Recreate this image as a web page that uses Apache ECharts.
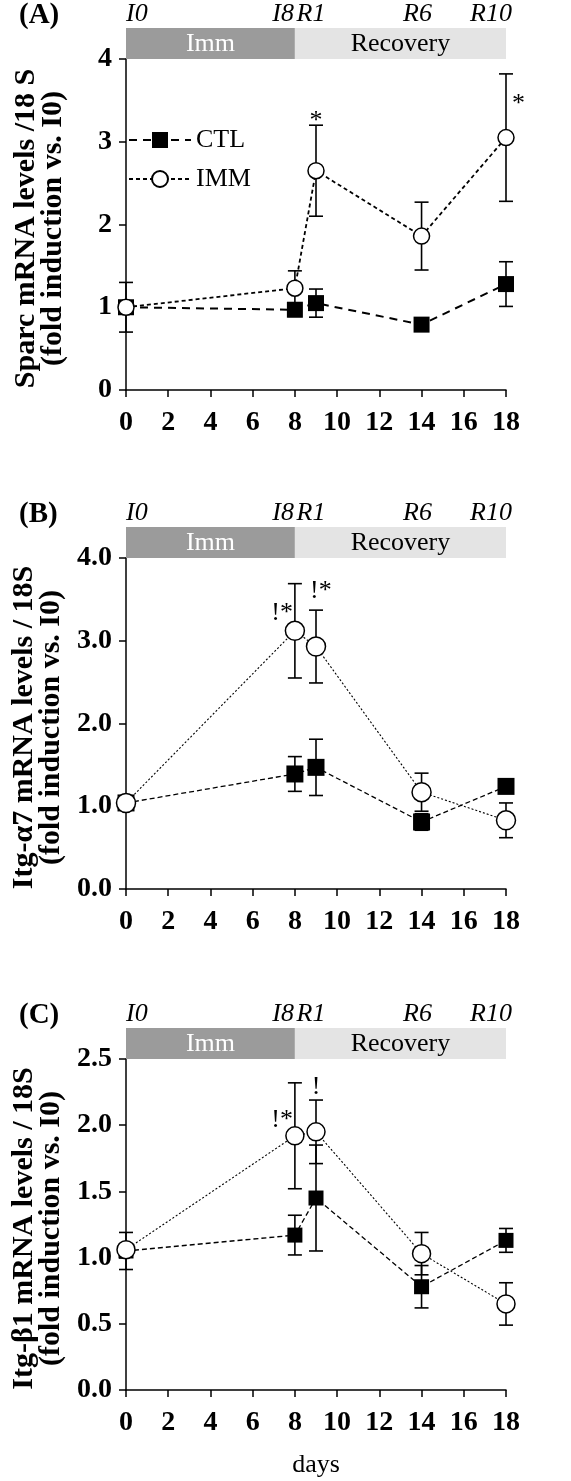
<!DOCTYPE html>
<html><head><meta charset="utf-8">
<script src="https://cdn.jsdelivr.net/npm/echarts@6/dist/echarts.min.js"></script>
<style>html,body{margin:0;padding:0;background:#fff}#c{width:571px;height:1481px}</style>
</head><body><div id="c"></div>
<script>
// ---------- data ----------
const days = [0, 8, 9, 14, 18];

const sparcCTL    = [1.00, 0.97, 1.05, 0.79, 1.28];
const sparcCTLErr = [0.30, 0.08, 0.17, 0.06, 0.27];
const sparcIMM    = [1.00, 1.23, 2.65, 1.86, 3.05];
const sparcIMMErr = [0.04, 0.21, 0.55, 0.41, 0.77];

const a7CTL    = [1.04, 1.39, 1.47, 0.81, 1.24];
const a7CTLErr = [0.05, 0.21, 0.34, 0.10, 0.04];
const a7IMM    = [1.04, 3.12, 2.93, 1.17, 0.83];
const a7IMMErr = [0.05, 0.57, 0.44, 0.23, 0.21];

const b1CTL    = [1.05, 1.17, 1.45, 0.78, 1.13];
const b1CTLErr = [0.14, 0.15, 0.40, 0.16, 0.09];
const b1IMM    = [1.06, 1.92, 1.95, 1.03, 0.65];
const b1IMMErr = [0.03, 0.40, 0.24, 0.16, 0.16];

const sparcAnnotText = ['*', '*'];
const sparcAnnotDay  = [9, 18];
const a7AnnotText = ['!*', '!*'];
const a7AnnotDay  = [8, 9];
const b1AnnotText = ['!*', '!'];
const b1AnnotDay  = [8, 9];

const panelLetters = ['(A)', '(B)', '(C)'];
const yTitles = [
  'Sparc mRNA levels /18 S\n(fold induction vs. I0)',
  'Itg-\u03b17 mRNA levels / 18S\n(fold induction vs. I0)',
  'Itg-\u03b21 mRNA levels / 18S\n(fold induction vs. I0)'
];
const yMax = [4, 4, 2.5];
const yStep = [1, 1, 0.5];
const yDecimals = [0, 1, 1];
const xMax = 18, xStep = 2;
const xTitle = 'days';

const tpLabels = ['I0', 'I8', 'R1', 'R6', 'R10'];
const tpDays = [0, 8, 9, 14, 18];
const phaseNames = ['Imm', 'Recovery'];
const phaseStart = [0, 8];
const phaseEnd = [8, 18];

// ---------- styles ----------
const FF = "'Liberation Serif','Times New Roman',serif";
const mainTop = [59, 558, 1059];
const plotH = 331;
const headH = 31;
const gridLeft = 126, gridRight = 65;
const tpStyle = [
  {align: 'left', dx: 0}, {align: 'right', dx: -1}, {align: 'center', dx: -5},
  {align: 'center', dx: -4}, {align: 'right', dx: 6}
];
const phaseFill = ['#9b9b9b', '#e4e4e4'];
const phaseText = ['#ffffff', '#000000'];
const annotStyles = [
  [{align: 'center', dx: 0, dy: -4}, {align: 'left', dx: 6, dy: 30}],
  [{align: 'right', dx: -2, dy: 30}, {align: 'left', dx: -6, dy: -19}],
  [{align: 'right', dx: -2, dy: 37}, {align: 'center', dx: 0, dy: -13}]
];
const panelStyles = [
  {ctl: {type: [8, 6], width: 2}, imm: {type: [4, 3], width: 1.8}, sq: 16, ci: 16},
  {ctl: {type: [5, 3], width: 1.3}, imm: {type: [2, 2], width: 1.1}, sq: 17, ci: 19},
  {ctl: {type: [5, 3], width: 1.3}, imm: {type: [2, 2], width: 1.1}, sq: 15, ci: 18}
];

const panels = [
  {ctl: sparcCTL, ctlErr: sparcCTLErr, imm: sparcIMM, immErr: sparcIMMErr, annText: sparcAnnotText, annDay: sparcAnnotDay},
  {ctl: a7CTL, ctlErr: a7CTLErr, imm: a7IMM, immErr: a7IMMErr, annText: a7AnnotText, annDay: a7AnnotDay},
  {ctl: b1CTL, ctlErr: b1CTLErr, imm: b1IMM, immErr: b1IMMErr, annText: b1AnnotText, annDay: b1AnnotDay}
];

function errRender(params, api) {
  const x = api.value(0), lo = api.value(1), hi = api.value(2);
  const pLo = api.coord([x, lo]), pHi = api.coord([x, hi]);
  const cap = 7;
  const st = {stroke: '#000', lineWidth: 1.6, fill: null};
  return {type: 'group', children: [
    {type: 'line', shape: {x1: pHi[0], y1: pHi[1], x2: pLo[0], y2: pLo[1]}, style: st},
    {type: 'line', shape: {x1: pHi[0] - cap, y1: pHi[1], x2: pHi[0] + cap, y2: pHi[1]}, style: st},
    {type: 'line', shape: {x1: pLo[0] - cap, y1: pLo[1], x2: pLo[0] + cap, y2: pLo[1]}, style: st}
  ]};
}

const grids = [], xAxes = [], yAxes = [], series = [], titles = [];
panels.forEach((pd, p) => {
  const ps = panelStyles[p];
  const gi = 2 * p, hi = 2 * p + 1;
  grids.push({left: gridLeft, right: gridRight, top: mainTop[p], height: plotH});
  grids.push({left: gridLeft, right: gridRight, top: mainTop[p] - headH, height: headH});
  xAxes.push({
    type: 'value', gridIndex: gi, min: 0, max: xMax, interval: xStep,
    axisLine: {onZero: false, lineStyle: {color: '#000', width: 1.5}},
    axisTick: {length: 7, lineStyle: {color: '#000', width: 1.5}},
    axisLabel: {color: '#000', fontFamily: FF, fontWeight: 'bold', fontSize: 28, margin: 19},
    splitLine: {show: false},
    name: p === 2 ? xTitle : '', nameLocation: 'middle', nameGap: 62,
    nameTextStyle: {color: '#000', fontFamily: FF, fontSize: 26}
  });
  xAxes.push({type: 'value', gridIndex: hi, min: 0, max: xMax, show: false});
  yAxes.push({
    type: 'value', gridIndex: gi, min: 0, max: yMax[p], interval: yStep[p],
    axisLine: {show: true, lineStyle: {color: '#000', width: 1.5}},
    axisTick: {show: true, length: 7, lineStyle: {color: '#000', width: 1.5}},
    axisLabel: {color: '#000', fontFamily: FF, fontWeight: 'bold', fontSize: 28, margin: 14,
      formatter: v => v.toFixed(yDecimals[p])},
    splitLine: {show: false},
    name: yTitles[p], nameLocation: 'middle', nameRotate: 90, nameGap: 59,
    nameTextStyle: {color: '#000', fontFamily: FF, fontWeight: 'bold', fontSize: 30, lineHeight: 27,
      padding: [0, 8, 0, 0]}
  });
  yAxes.push({type: 'value', gridIndex: hi, min: 0, max: 1, show: false});

  const nC = p === 0 ? 'CTL' : 'CTL ' + p;
  const nI = p === 0 ? 'IMM' : 'IMM ' + p;
  series.push({
    type: 'custom', name: nC + ' err', xAxisIndex: gi, yAxisIndex: gi, z: 2, silent: true,
    renderItem: errRender, encode: {x: 0, y: [1, 2]},
    data: days.map((d, i) => [d, pd.ctl[i] - pd.ctlErr[i], pd.ctl[i] + pd.ctlErr[i]])
  });
  series.push({
    type: 'custom', name: nI + ' err', xAxisIndex: gi, yAxisIndex: gi, z: 2, silent: true,
    renderItem: errRender, encode: {x: 0, y: [1, 2]},
    data: days.map((d, i) => [d, pd.imm[i] - pd.immErr[i], pd.imm[i] + pd.immErr[i]])
  });
  series.push({
    type: 'line', name: nC, xAxisIndex: gi, yAxisIndex: gi, z: 3,
    data: days.map((d, i) => [d, pd.ctl[i]]),
    symbol: 'rect', symbolSize: ps.sq, showAllSymbol: true,
    itemStyle: {color: '#000', borderColor: '#000', borderWidth: 0},
    lineStyle: {color: '#000', width: ps.ctl.width, type: ps.ctl.type},
    emphasis: {disabled: true}
  });
  series.push({
    type: 'line', name: nI, xAxisIndex: gi, yAxisIndex: gi, z: 4,
    data: days.map((d, i) => [d, pd.imm[i]]),
    symbol: 'circle', symbolSize: ps.ci, showAllSymbol: true,
    itemStyle: {color: '#fff', borderColor: '#000', borderWidth: 1.5},
    lineStyle: {color: '#000', width: ps.imm.width, type: ps.imm.type},
    emphasis: {disabled: true}
  });
  // significance annotations, anchored at the top of the IMM error bar
  series.push({
    type: 'custom', name: 'annot ' + p, xAxisIndex: gi, yAxisIndex: gi, z: 5, silent: true, clip: false,
    encode: {x: 0, y: 1},
    data: pd.annDay.map((d, k) => {
      const i = days.indexOf(d);
      return [d, pd.imm[i] + pd.immErr[i], k];
    }),
    renderItem: (params, api) => {
      const k = api.value(2);
      const s = annotStyles[p][k];
      const pt = api.coord([api.value(0), api.value(1)]);
      return {type: 'text', x: pt[0] + s.dx, y: pt[1] + s.dy,
        style: {text: pd.annText[k], fill: '#000', fontFamily: FF, fontSize: 26,
          align: s.align, verticalAlign: 'middle'}};
    }
  });
  // phase bars
  series.push({
    type: 'custom', name: 'phase ' + p, xAxisIndex: hi, yAxisIndex: hi, z: 1, silent: true, clip: false,
    encode: {x: [0, 1]},
    data: phaseNames.map((nm, k) => [phaseStart[k], phaseEnd[k], k]),
    renderItem: (params, api) => {
      const k = api.value(2);
      const p0 = api.coord([api.value(0), 1]);
      const p1 = api.coord([api.value(1), 0]);
      return {type: 'group', children: [
        {type: 'rect', shape: {x: p0[0], y: p0[1], width: p1[0] - p0[0], height: p1[1] - p0[1]},
          style: {fill: phaseFill[k]}},
        {type: 'text', x: (p0[0] + p1[0]) / 2, y: (p0[1] + p1[1]) / 2 + 1,
          style: {text: phaseNames[k], fill: phaseText[k], fontFamily: FF, fontSize: 26,
            align: 'center', verticalAlign: 'middle'}}
      ]};
    }
  });
  // timepoint labels
  series.push({
    type: 'custom', name: 'tp ' + p, xAxisIndex: hi, yAxisIndex: hi, z: 1, silent: true, clip: false,
    encode: {x: 0},
    data: tpDays.map((d, k) => [d, 1, k]),
    renderItem: (params, api) => {
      const k = api.value(2);
      const s = tpStyle[k];
      const pt = api.coord([api.value(0), api.value(1)]);
      return {type: 'text', x: pt[0] + s.dx, y: pt[1] - 14,
        style: {text: tpLabels[k], fill: '#000', fontFamily: FF, fontStyle: 'italic', fontSize: 26,
          align: s.align, verticalAlign: 'middle'}};
    }
  });
  titles.push({text: panelLetters[p], left: 19, top: mainTop[p] - 59 + 1, padding: 0,
    textStyle: {color: '#000', fontFamily: FF, fontWeight: 'bold', fontSize: 29}});
});

const chart = echarts.init(document.getElementById('c'), null, {renderer: 'canvas'});
chart.setOption({
  animation: false,
  backgroundColor: '#fff',
  title: titles,
  legend: {
    data: ['CTL', 'IMM'], orient: 'vertical', left: 128, top: 127, padding: 0,
    itemWidth: 62, itemHeight: 20, itemGap: 13, selectedMode: false,
    textStyle: {color: '#000', fontFamily: FF, fontSize: 26}
  },
  grid: grids,
  xAxis: xAxes,
  yAxis: yAxes,
  series: series
});
</script>
</body></html>
